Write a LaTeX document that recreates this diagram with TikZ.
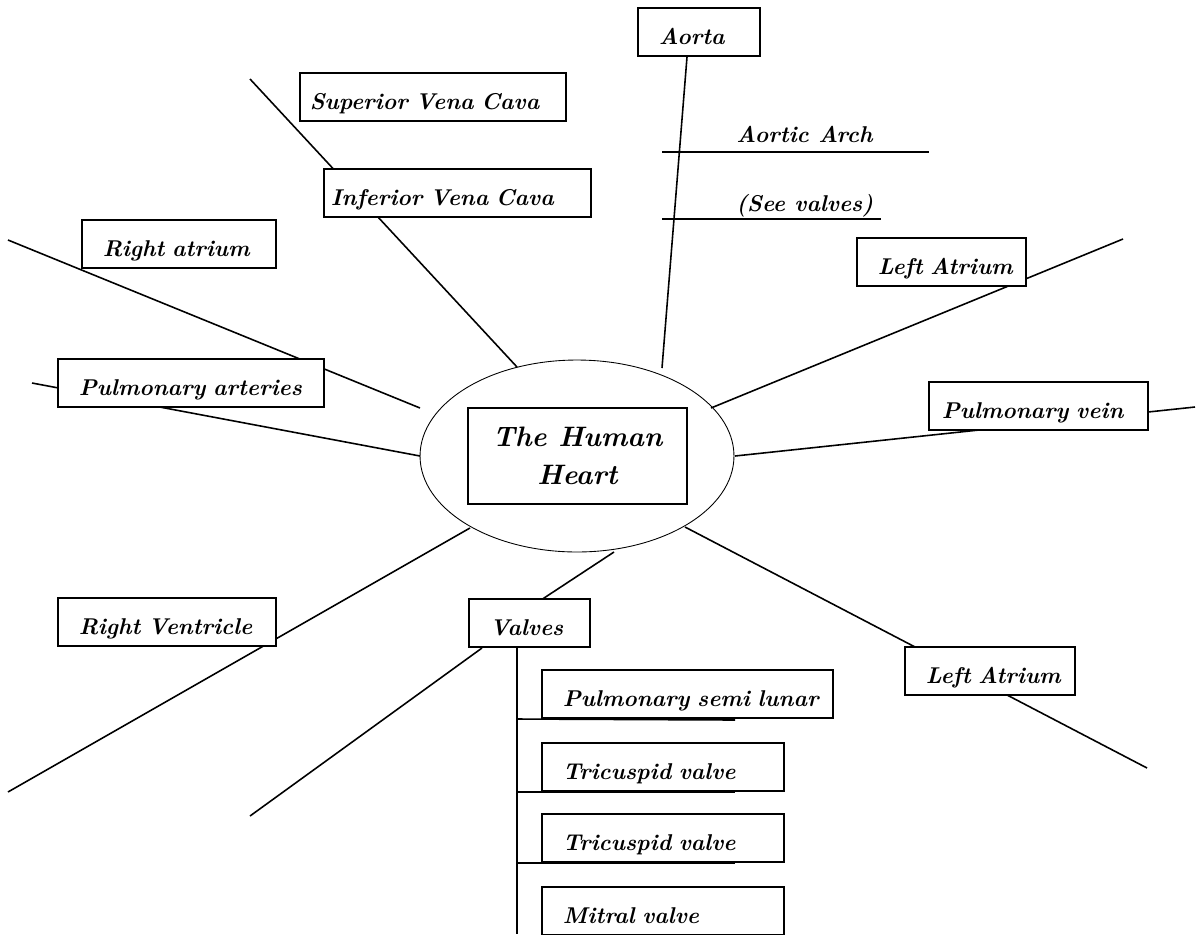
\documentclass[tikz,border=0pt]{standalone}
\usetikzlibrary{shapes.geometric}
\hyphenpenalty=10000
\pgfdeclarelayer{bg}
\pgfsetlayers{bg,main}
\tikzset{
	heart/.style={ellipse, draw, line width=0.5pt, minimum width=6.28cm, minimum height=3.84cm, inner sep=0pt},
	title/.style={draw, line width=1.2pt, minimum width=4.38cm, minimum height=1.92cm, align=center, font=\fontsize{16}{22}\selectfont\bfseries\itshape},
	part/.style={draw, fill=white, line width=1pt, anchor=south west, inner ysep=0pt, inner xsep=0.42cm, text height=0.72cm, text depth=0.24cm, align=left, font=\fontsize{13}{15}\selectfont\bfseries\itshape},
	note/.style={anchor=base west, inner sep=0pt, font=\fontsize{13}{15}\selectfont\bfseries\itshape},
	link/.style={line width=0.9pt}
}
\begin{document}
\begin{tikzpicture}[x=0.02cm,y=-0.02cm]
	\useasboundingbox (0,0) rectangle (1196,934);
	\node[heart] (heart) at (577,456) {};
	\node[title] (title) at (577.5,456) {The Human\\Heart};
	\node[part, text width=1.60cm] (aorta) at (637,57) {Aorta};
	\node[part, text width=4.92cm, inner xsep=0.2cm] (svc) at (299,122) {Superior~Vena~Cava};
	\node[part, text width=5.06cm, inner xsep=0.14cm] (ivc) at (323,218) {Inferior~Vena~Cava};
	\node[part, text width=3.04cm] (ratrium) at (81,269) {Right~atrium};
	\node[part, text width=4.48cm] (parteries) at (57,408) {Pulmonary~arteries};
	\node[part, text width=2.54cm] (latrium) at (856,287) {Left~Atrium};
	\node[part, text width=3.86cm, inner xsep=0.26cm] (pvein) at (928,431) {Pulmonary~vein};
	\node[part, text width=3.52cm] (rventricle) at (57,647) {Right~Ventricle};
	\node[part, text width=2.56cm] (latrium2) at (904,696) {Left~Atrium};
	\node[part, text width=1.58cm] (valves) at (468,648) {Valves};
	\node[part, text width=4.98cm] (semilunar) at (541,719) {Pulmonary~semi~lunar};
	\node[part, text width=4.00cm] (tricuspid) at (541,792) {Tricuspid~valve};
	\node[part, text width=4.00cm] (tricuspid2) at (541,863) {Tricuspid~valve};
	\node[part, text width=4.00cm] (mitral) at (541,936) {Mitral~valve};
	\node[note] (arch) at (736,142) {Aortic Arch};
	\node[note] (seevalves) at (736,211) {(See valves)};

	\coordinate (aortaend) at (662,368);
	\coordinate (archl) at (662,152);
	\coordinate (archr) at (929,152);
	\coordinate (seel) at (662,219);
	\coordinate (seer) at (881,219);
	\coordinate (vctop) at (250,79);
	\coordinate (vcend) at (517,367);
	\coordinate (ratop) at (8,240);
	\coordinate (raend) at (420,408);
	\coordinate (patop) at (32,383);
	\coordinate (paend) at (420,456);
	\coordinate (latop) at (1123,239);
	\coordinate (laend) at (711,408);
	\coordinate (pvtop) at (1195,407);
	\coordinate (pvend) at (735,456);
	\coordinate (rvtop) at (470,528);
	\coordinate (rvend) at (8,792);
	\coordinate (la2top) at (685,527);
	\coordinate (la2end) at (1147,768);
	\coordinate (vatop) at (614,552);
	\coordinate (vain) at (541,600);
	\coordinate (vaout) at (482,648);
	\coordinate (vaend) at (250,816);
	\coordinate (trunk) at (517,648);
	\coordinate (trunkend) at (517,934);

	\begin{pgfonlayer}{bg}
		\draw[link] (aorta.south -| 687,0) -- (aortaend);
		\draw[link] (archl) -- (archr);
		\draw[link] (seel) -- (seer);
		\draw[link] (vctop) -- (vcend);
		\draw[link] (ratop) -- (raend);
		\draw[link] (patop) -- (paend);
		\draw[link] (latop) -- (laend);
		\draw[link] (pvtop) -- (pvend);
		\draw[link] (rvtop) -- (rvend);
		\draw[link] (la2top) -- (la2end);
		\draw[link] (vatop) -- (vain);
		\draw[link] (vaout) -- (vaend);
		\draw[link] (trunk) -- (trunkend);
		\draw[link] (trunk |- semilunar.south) -- (735,720);
		\draw[link] (trunk |- tricuspid.south) -- (735,792);
		\draw[link] (trunk |- tricuspid2.south) -- (735,863);
	\end{pgfonlayer}
\end{tikzpicture}
\end{document}
